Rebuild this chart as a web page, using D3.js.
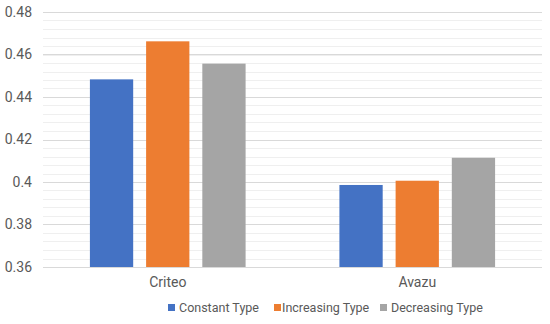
<!DOCTYPE html>
<html>
<head>
<meta charset="utf-8">
<script src="https://cdn.jsdelivr.net/npm/d3@7"></script>
<style>
  body { margin: 0; background: #fff; }
  text { font-family: Roboto, "Noto Sans", sans-serif; fill: #595959; }
</style>
</head>
<body>
<script>
// chart data
const categories = ["Criteo", "Avazu"];
const seriesNames = ["Constant Type", "Increasing Type", "Decreasing Type"];
const constantValues = [0.4483, 0.3986];
const increasingValues = [0.4662, 0.4006];
const decreasingValues = [0.4557, 0.4114];
const yTicks = [0.36, 0.38, 0.4, 0.42, 0.44, 0.46, 0.48];
const colors = ["#4472C4", "#ED7D31", "#A5A5A5"];

const seriesValues = [constantValues, increasingValues, decreasingValues];

const margin = { top: 12, right: 8, bottom: 57, left: 43 },
  width = 550 - margin.left - margin.right,
  height = 324 - margin.top - margin.bottom;

const svg = d3.select("body").append("svg")
    .attr("width", 550)
    .attr("height", 324)
  .append("g")
    .attr("transform", `translate(${margin.left}, ${margin.top})`);

const x = d3.scaleBand().domain(categories).range([0, width]);
const xInner = d3.scaleBand().domain(seriesNames)
  .range([x.bandwidth() * 0.188, x.bandwidth() * 0.812])
  .paddingInner(0.23);
const y = d3.scaleLinear().domain([0.36, 0.48]).range([height, 0]);

// minor gridlines
const minorTicks = d3.range(0, 31).map(i => 0.36 + i * 0.004);
svg.selectAll(".minor")
  .data(minorTicks)
  .enter().append("line")
    .attr("class", "minor")
    .attr("x1", 0).attr("x2", width)
    .attr("y1", d => Math.round(y(d)) + 0.5)
    .attr("y2", d => Math.round(y(d)) + 0.5)
    .attr("stroke", "#efefef")
    .attr("stroke-width", 1);

// major gridlines
svg.selectAll(".major")
  .data(yTicks)
  .enter().append("line")
    .attr("class", "major")
    .attr("x1", 0).attr("x2", width)
    .attr("y1", d => Math.round(y(d)) + 0.5)
    .attr("y2", d => Math.round(y(d)) + 0.5)
    .attr("stroke", "#d9d9d9")
    .attr("stroke-width", 1.2);

// y axis labels
const yAxis = svg.append("g")
  .call(d3.axisLeft(y).tickValues(yTicks).tickSize(0).tickPadding(11)
    .tickFormat(d => d3.format("")(+d.toFixed(2))));
yAxis.select(".domain").remove();
yAxis.selectAll("text").style("font-size", "14px").attr("fill", "#666");

// bars
categories.forEach((cat, ci) => {
  svg.selectAll(".bar-" + ci)
    .data(seriesNames)
    .enter().append("rect")
      .attr("x", s => x(cat) + xInner(s))
      .attr("width", xInner.bandwidth())
      .attr("y", (s, si) => y(seriesValues[si][ci]))
      .attr("height", (s, si) => height - y(seriesValues[si][ci]))
      .attr("fill", (s, si) => colors[si]);
});

// x axis labels
const xAxis = svg.append("g")
  .attr("transform", `translate(0, ${height})`)
  .call(d3.axisBottom(x).tickSize(0).tickPadding(10));
xAxis.select(".domain").remove();
xAxis.selectAll("text").style("font-size", "14px").attr("fill", "#666");

// legend
const legendX = [125, 231, 337];
const legend = svg.append("g").attr("transform", `translate(0, ${height + 41})`);
seriesNames.forEach((name, i) => {
  const g = legend.append("g").attr("transform", `translate(${legendX[i]}, 0)`);
  g.append("rect")
    .attr("x", 0).attr("y", -4)
    .attr("width", 7).attr("height", 7)
    .attr("fill", colors[i]);
  g.append("text")
    .attr("x", i === 1 ? 8 : 11)
    .attr("y", 0)
    .attr("dy", "0.35em")
    .style("font-size", "12.5px")
    .attr("fill", "#555")
    .text(name);
});
</script>
</body>
</html>
